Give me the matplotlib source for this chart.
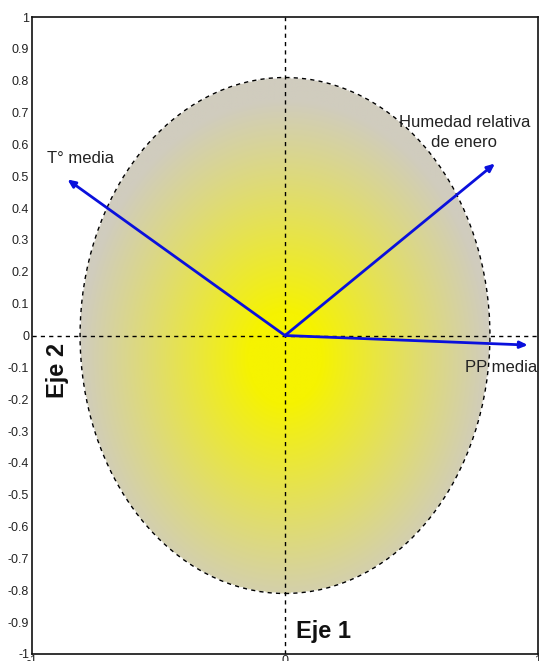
import numpy as np
import matplotlib
matplotlib.use("Agg")
import matplotlib.pyplot as plt
from matplotlib.patches import Ellipse
from matplotlib.ticker import FixedLocator, FuncFormatter

plt.rcParams['font.family'] = ['Liberation Sans', 'DejaVu Sans']

# Variable loadings on the two principal axes
variables = ["T° media", "Humedad relativa\nde enero", "PP media"]
eje1 = [-0.86, 0.83, 0.96]
eje2 = [0.49, 0.54, -0.03]
label_pos = [(-0.94, 0.557, "left"), (0.709, 0.638, "center"), (0.713, -0.10, "left")]

circle_radius = 0.81
y_ticks = [round(v, 1) for v in np.arange(-1.0, 1.01, 0.1)]
x_ticks = [-1, 0, 1]

fig = plt.figure(figsize=(5.39, 6.61), dpi=100)
ax = fig.add_axes([32 / 539, 7 / 661, 506 / 539, 637 / 661])
ax.set_xlim(-1, 1)
ax.set_ylim(-1, 1)

# Radial yellow-to-grey shading inside the circle
n = 600
xs = np.linspace(-1, 1, n)
ys = np.linspace(-1, 1, n)
X, Y = np.meshgrid(xs, ys)
R = np.hypot(X / circle_radius, (Y + 0.07) / circle_radius)
t = np.clip((R - 0.18) / 0.82, 0, 1) ** 0.95
yellow = np.array([246, 243, 0]) / 255
grey = np.array([208, 204, 190]) / 255
img = yellow[None, None, :] * (1 - t[..., None]) + grey[None, None, :] * t[..., None]
rgba = np.dstack([img, np.ones_like(R)])
inside = np.hypot(X, Y) <= circle_radius
rgba[~inside, 3] = 0
ax.imshow(rgba, extent=(-1, 1, -1, 1), origin="lower", aspect="auto",
          interpolation="bilinear", zorder=1)

ax.add_patch(Ellipse((0, 0), 2 * circle_radius, 2 * circle_radius, fill=False,
                     edgecolor="black", linestyle=(0, (3, 3)), linewidth=1, zorder=2))

ax.axhline(0, color="black", linestyle=(0, (3, 3)), linewidth=1, zorder=2)
ax.axvline(0, color="black", linestyle=(0, (3, 3)), linewidth=1, zorder=2)

for name, x, y, (lx, ly, ha) in zip(variables, eje1, eje2, label_pos):
    ax.annotate("", xy=(x, y), xytext=(0, 0),
                arrowprops=dict(arrowstyle="-|>,head_length=0.45,head_width=0.2",
                                color="#0a10dc", lw=2, shrinkA=0, shrinkB=0),
                zorder=3)
    ax.text(lx, ly, name, ha=ha, va="center", fontsize=12,
            color="#222222", linespacing=1.45, zorder=4, clip_on=False)

ax.text(0.154, -0.928, "Eje 1", ha="center", va="center", fontsize=17,
        fontweight="bold", color="#111111")
ax.text(-0.90, -0.11, "Eje 2", ha="center", va="center", fontsize=17,
        fontweight="bold", rotation=90, color="#111111")

def fmt(v, pos):
    v = round(v, 1)
    return "0" if v == 0 else f"{v:g}"

ax.yaxis.set_major_locator(FixedLocator(y_ticks))
ax.xaxis.set_major_locator(FixedLocator(x_ticks))
ax.yaxis.set_major_formatter(FuncFormatter(fmt))
ax.xaxis.set_major_formatter(FuncFormatter(fmt))
ax.tick_params(axis="both", length=0, labelsize=9, colors="#222222")
ax.tick_params(axis="y", pad=2)
ax.tick_params(axis="x", pad=1)
for s in ax.spines.values():
    s.set_linewidth(1.2)
    s.set_color("#111111")

fig.savefig("out.png", dpi=100)
